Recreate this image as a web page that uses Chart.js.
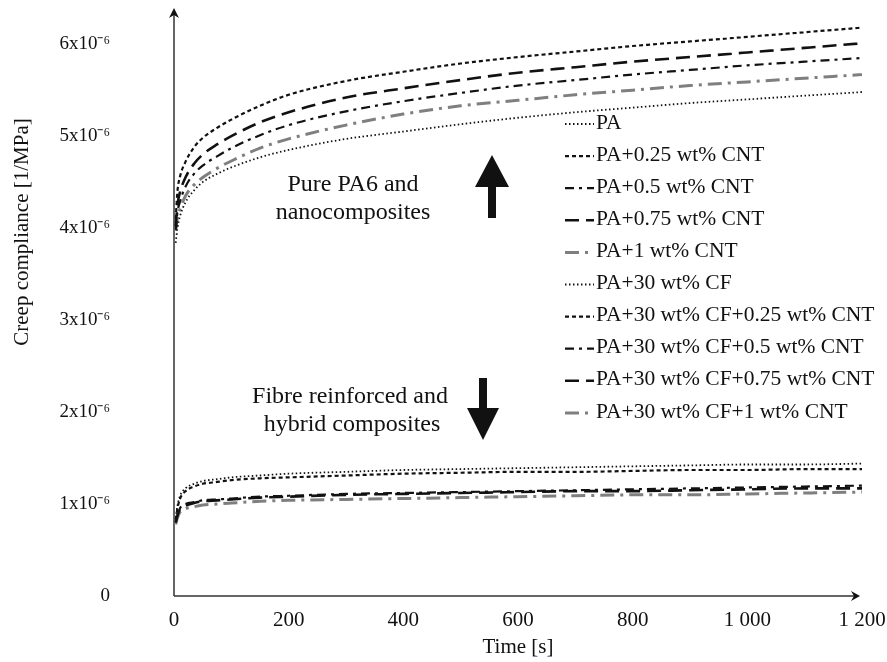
<!DOCTYPE html>
<html><head><meta charset="utf-8">
<script src="https://cdn.jsdelivr.net/npm/chart.js@4/dist/chart.umd.min.js"></script>
<style>html,body{margin:0;padding:0;background:#fff}#wrap{width:887px;height:662px;position:relative}</style>
</head><body><div id="wrap"><canvas id="c"></canvas></div>
<script>
// Time points [s]
const timeS = [3, 6, 10, 20, 35, 50, 75, 100, 150, 200, 300, 400, 500, 600, 700, 800, 900, 1000, 1100, 1200];
// Creep compliance, in units of 10^-6 1/MPa
const pa       = [3.84, 4.00, 4.12, 4.28, 4.41, 4.50, 4.59, 4.66, 4.77, 4.85, 4.97, 5.05, 5.13, 5.20, 5.26, 5.31, 5.36, 5.40, 5.44, 5.48];
const pa025    = [4.10, 4.40, 4.55, 4.72, 4.88, 4.98, 5.09, 5.18, 5.33, 5.45, 5.60, 5.70, 5.79, 5.86, 5.92, 5.98, 6.03, 6.08, 6.13, 6.18];
const pa05     = [3.98, 4.17, 4.28, 4.45, 4.59, 4.68, 4.78, 4.87, 5.01, 5.12, 5.27, 5.38, 5.47, 5.55, 5.61, 5.67, 5.72, 5.77, 5.81, 5.85];
const pa075    = [4.02, 4.25, 4.38, 4.55, 4.70, 4.80, 4.91, 5.00, 5.15, 5.26, 5.42, 5.52, 5.61, 5.69, 5.75, 5.81, 5.86, 5.91, 5.96, 6.01];
const pa1      = [3.97, 4.12, 4.20, 4.35, 4.47, 4.55, 4.65, 4.73, 4.87, 4.97, 5.12, 5.24, 5.33, 5.39, 5.45, 5.50, 5.55, 5.59, 5.63, 5.67];
const cf       = [0.85, 0.98, 1.08, 1.17, 1.22, 1.25, 1.27, 1.29, 1.31, 1.33, 1.35, 1.37, 1.38, 1.39, 1.40, 1.41, 1.42, 1.43, 1.43, 1.44];
const cf025    = [0.83, 0.95, 1.05, 1.14, 1.19, 1.22, 1.24, 1.26, 1.28, 1.29, 1.31, 1.33, 1.34, 1.35, 1.35, 1.36, 1.37, 1.37, 1.38, 1.38];
const cf05     = [0.80, 0.88, 0.95, 1.00, 1.02, 1.04, 1.05, 1.06, 1.08, 1.09, 1.11, 1.12, 1.13, 1.14, 1.15, 1.16, 1.17, 1.18, 1.19, 1.20];
const cf075    = [0.80, 0.87, 0.94, 0.98, 1.01, 1.03, 1.04, 1.05, 1.07, 1.08, 1.10, 1.11, 1.12, 1.13, 1.14, 1.14, 1.15, 1.16, 1.17, 1.17];
const cf1      = [0.78, 0.85, 0.91, 0.95, 0.97, 0.99, 1.00, 1.01, 1.03, 1.04, 1.05, 1.06, 1.07, 1.08, 1.09, 1.10, 1.10, 1.11, 1.12, 1.13];

const seriesNames = ['PA', 'PA+0.25 wt% CNT', 'PA+0.5 wt% CNT', 'PA+0.75 wt% CNT', 'PA+1 wt% CNT',
  'PA+30 wt% CF', 'PA+30 wt% CF+0.25 wt% CNT', 'PA+30 wt% CF+0.5 wt% CNT', 'PA+30 wt% CF+0.75 wt% CNT', 'PA+30 wt% CF+1 wt% CNT'];
const seriesValues = [pa, pa025, pa05, pa075, pa1, cf, cf025, cf05, cf075, cf1];
const xTickValues = [0, 200, 400, 600, 800, 1000, 1200];
const yTickValues = [0, 1, 2, 3, 4, 5, 6];

// line styles: dotted, short dash, dash-dot, long dash, grey dash-dot
const styles = [
  {c:'#111', w:1.8, d:[1.5, 2.5]},
  {c:'#111', w:2.2, d:[4, 3]},
  {c:'#111', w:2.2, d:[9, 5, 3, 5]},
  {c:'#111', w:2.6, d:[14, 7]},
  {c:'#7f7f7f', w:3, d:[14, 6, 3, 6]}
];

const datasets = seriesValues.map((vals, i) => {
  const s = styles[i % 5];
  return {
    label: seriesNames[i],
    data: timeS.map((t, k) => ({x: t, y: vals[k]})),
    borderColor: s.c, borderWidth: s.w, borderDash: s.d,
    pointRadius: 0, fill: false, cubicInterpolationMode: 'monotone'
  };
});

const FONT = 'Liberation Serif';

const decor = {
  id: 'decor',
  beforeDatasetsDraw(chart) {
    const {ctx, chartArea: a} = chart;
    ctx.save();
    ctx.strokeStyle = '#333'; ctx.fillStyle = '#111'; ctx.lineWidth = 1.5;
    ctx.beginPath();
    ctx.moveTo(a.left, a.bottom); ctx.lineTo(a.right - 4, a.bottom);
    ctx.moveTo(a.left, a.bottom); ctx.lineTo(a.left, a.top - 2);
    ctx.stroke();
    // arrow heads
    ctx.beginPath();
    ctx.moveTo(a.right - 2, a.bottom); ctx.lineTo(a.right - 11, a.bottom - 5);
    ctx.lineTo(a.right - 8, a.bottom); ctx.lineTo(a.right - 11, a.bottom + 5); ctx.closePath(); ctx.fill();
    ctx.beginPath();
    ctx.moveTo(a.left, a.top - 4); ctx.lineTo(a.left - 5, a.top + 6);
    ctx.lineTo(a.left, a.top + 3); ctx.lineTo(a.left + 5, a.top + 6); ctx.closePath(); ctx.fill();
    // y title
    ctx.translate(22, 232); ctx.rotate(-Math.PI / 2);
    ctx.font = '21px "' + FONT + '"'; ctx.textAlign = 'center'; ctx.textBaseline = 'middle';
    ctx.fillText('Creep compliance [1/MPa]', 0, 0);
    ctx.restore();
  },
  afterDatasetsDraw(chart) {
    const {ctx} = chart;
    ctx.save();
    // legend
    ctx.font = '21.5px "' + FONT + '"'; ctx.textBaseline = 'middle'; ctx.textAlign = 'left';
    chart.data.datasets.forEach((ds, i) => {
      const y = 123 + i * 32.1;
      ctx.save();
      ctx.strokeStyle = ds.borderColor; ctx.lineWidth = ds.borderWidth; ctx.setLineDash(ds.borderDash);
      ctx.beginPath(); ctx.moveTo(565, y + 1); ctx.lineTo(594, y + 1); ctx.stroke();
      ctx.restore();
      ctx.fillStyle = '#111';
      ctx.fillText(ds.label, 596, y);
    });
    // annotations
    ctx.font = '24px "' + FONT + '"'; ctx.textAlign = 'center'; ctx.fillStyle = '#111';
    ctx.fillText('Pure PA6 and', 353, 185);
    ctx.fillText('nanocomposites', 353, 213);
    ctx.fillText('Fibre reinforced and', 350, 397);
    ctx.fillText('hybrid composites', 352, 425);
    // up arrow
    ctx.beginPath();
    ctx.moveTo(492, 155); ctx.lineTo(509, 187); ctx.lineTo(496, 187); ctx.lineTo(496, 218);
    ctx.lineTo(488, 218); ctx.lineTo(488, 187); ctx.lineTo(475, 187); ctx.closePath(); ctx.fill();
    // down arrow
    ctx.beginPath();
    ctx.moveTo(483, 440); ctx.lineTo(467, 408); ctx.lineTo(479, 408); ctx.lineTo(479, 378);
    ctx.lineTo(487, 378); ctx.lineTo(487, 408); ctx.lineTo(499, 408); ctx.closePath(); ctx.fill();
    ctx.restore();
  }
};

new Chart(document.getElementById('c'), {
  type: 'line',
  data: {datasets},
  plugins: [decor],
  options: {
    responsive: true, maintainAspectRatio: false, animation: false, devicePixelRatio: 1,
    layout: {padding: {top: 12, right: 25, left: 0, bottom: 0}},
    plugins: {legend: {display: false}, tooltip: {enabled: false}},
    scales: {
      x: {
        type: 'linear', min: 0, max: 1200,
        afterBuildTicks: s => { s.ticks = xTickValues.map(v => ({value: v})); },
        afterFit: s => { s.height = 66; s.paddingLeft = 0; s.paddingRight = 0; },
        grid: {display: false, drawTicks: false}, border: {display: false},
        ticks: {font: {family: FONT, size: 21}, color: '#111', padding: 12, maxRotation: 0,
          callback: v => v >= 1000 ? Math.floor(v / 1000) + ' ' + String(v % 1000).padStart(3, '0') : String(v)},
        title: {display: true, text: 'Time [s]', font: {family: FONT, size: 21}, color: '#111', padding: {top: 2, bottom: 2}}
      },
      y: {
        type: 'linear', min: 0, max: 6.35,
        afterBuildTicks: s => { s.ticks = yTickValues.map(v => ({value: v})); },
        afterFit: s => { s.width = 174; s.paddingTop = 0; s.paddingBottom = 0; },
        grid: {display: false, drawTicks: false}, border: {display: false},
        ticks: {font: {family: FONT, size: 19}, color: '#111', padding: 64,
          callback: v => v === 0 ? '0' : v + 'x10\u207B\u2076'}
      }
    }
  }
});
</script>
</body></html>
